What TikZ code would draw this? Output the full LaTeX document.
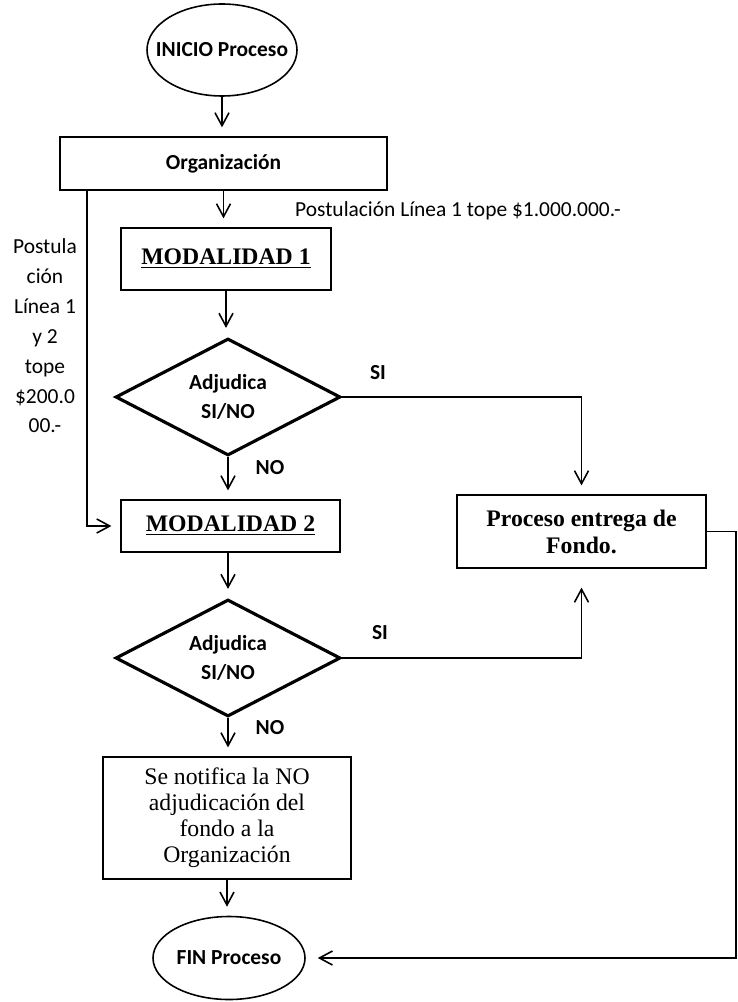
\documentclass[tikz,border=0pt]{standalone}
\usepackage{fontspec}
\setmainfont{Liberation Serif}
\newfontfamily\calibri{Carlito}
\usepackage{tikz}
\usetikzlibrary{shapes.geometric,arrows.meta}

\begin{document}
\begin{tikzpicture}[
flecha/.style={draw=black, line width=0.9pt, -{Straight Barb[length=2.6mm,width=2.8mm]}, shorten >=0.18cm},
caja/.style={draw=black, line width=0.7pt, rectangle, inner sep=0pt, align=center},
inicfin/.style={draw=black, line width=0.9pt, ellipse, inner sep=0pt, font=\calibri\bfseries\fontsize{12.2}{14}\selectfont},
decision/.style={draw=black, line width=1.8pt, diamond, shape aspect=1.92, inner sep=0pt, minimum width=4.5cm, minimum height=2.34cm, align=center, font=\calibri\bfseries\fontsize{12.2}{17}\selectfont},
etiq/.style={font=\calibri\bfseries\fontsize{12.2}{14}\selectfont}
]
\useasboundingbox (0,0) rectangle (14.74,-20.04);

% column of the process
\node[inicfin, minimum width=3cm, minimum height=1.84cm] (inicio) at (4.44,-1.0) {\makebox[0pt]{INICIO Proceso}};
\node[caja, minimum width=6.54cm, minimum height=1.06cm, font=\calibri\bfseries\fontsize{12.2}{14}\selectfont] (org) at (4.47,-3.27) {Organización};
\node[caja, minimum width=4.2cm, minimum height=1.24cm, font=\bfseries\fontsize{13.5}{15}\selectfont] (mod1) at (4.52,-5.18) {\underline{MODALIDAD 1}};
\node[decision] (dec1) at (4.56,-7.94) {Adjudica\\SI/NO};
\node[caja, minimum width=4.38cm, minimum height=1.04cm, font=\bfseries\fontsize{13.5}{15}\selectfont] (mod2) at (4.61,-10.52) {\underline{MODALIDAD 2}};
\node[decision] (dec2) at (4.56,-13.16) {Adjudica\\SI/NO};
\node[caja, minimum width=4.96cm, minimum height=2.44cm, font=\fontsize{13.5}{14.8}\selectfont] (notif) at (4.54,-16.36) {Se notifica la NO\\adjudicación del\\fondo a la\\Organización};
\node[inicfin, minimum width=3.04cm, minimum height=1.66cm] (fin) at (4.58,-19.16) {\makebox[0pt]{FIN Proceso}};
\node[caja, minimum width=4.98cm, minimum height=1.46cm, font=\bfseries\fontsize{13.5}{15.4}\selectfont] (fondo) at (11.63,-10.63) {Proceso entrega de\\Fondo.};

% texts on the lines
\node[anchor=west, font=\calibri\fontsize{12.2}{14}\selectfont] (post1) at (5.78,-4.22) {Postulación Línea 1 tope \$1.000.000.-};
\node[align=center, font=\calibri\fontsize{12.2}{17}\selectfont] (post2) at (0.9,-6.72) {Postula\\ción\\Línea 1\\y 2\\tope\\\$200.0\\00.-};
\node[etiq] (si1) at (7.56,-7.46) {SI};
\node[etiq] (no1) at (5.4,-9.36) {NO};
\node[etiq] (si2) at (7.6,-12.66) {SI};
\node[etiq] (no2) at (5.4,-14.56) {NO};

\coordinate (izq) at (1.74,-3.8);
\coordinate (der) at (14.72,-10.5);

% connectors
\draw[flecha] (inicio.south) -- (inicio.south |- org.north);
\draw[flecha] (org.south) -- (org.south |- mod1.north);
\draw[flecha] (mod1.south) -- (mod1.south |- dec1.north);
\draw[flecha] (dec1.south) -- (dec1.south |- mod2.north);
\draw[flecha] (dec2.north |- mod2.south) -- (dec2.north);
\draw[flecha] (dec2.south) -- (dec2.south |- notif.north);
\draw[flecha] (notif.south) -- (notif.south |- fin.north);
\draw[flecha] (org.south -| izq) |- (mod2.west);
\draw[flecha] (dec1.east) -| (fondo.north);
\draw[flecha, shorten >=0.38cm] (dec2.east) -| (fondo.south);
\draw[flecha, shorten >=0.24cm] (fondo.east) -- (fondo.east -| der) |- (fin.east);
\end{tikzpicture}
\end{document}
